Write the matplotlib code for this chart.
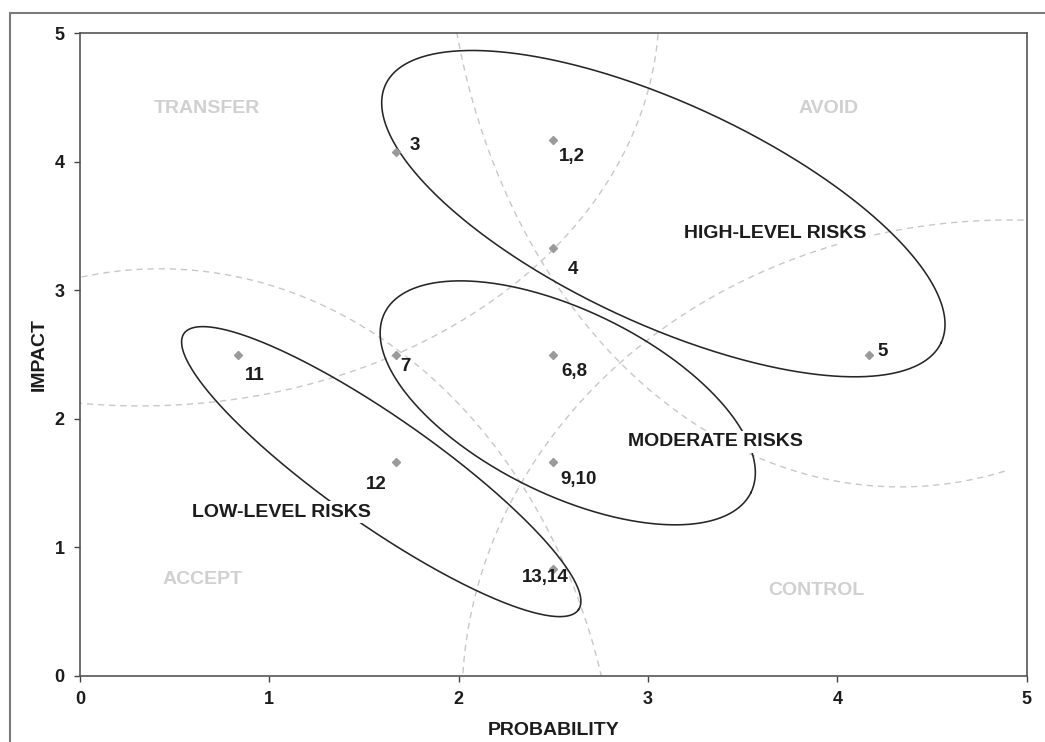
import numpy as np
import matplotlib
matplotlib.use('Agg')
import matplotlib.pyplot as plt
from matplotlib.patches import Rectangle

plt.rcParams['font.family'] = ['Liberation Sans', 'DejaVu Sans']

# ---------------- data ----------------
risk_labels = ['1,2', '3', '4', '5', '6,8', '7', '9,10', '11', '12', '13,14']
probability = [2.5, 1.667, 2.5, 4.167, 2.5, 1.667, 2.5, 0.833, 1.667, 2.5]
impact = [4.167, 4.08, 3.333, 2.5, 2.5, 2.5, 1.667, 2.5, 1.667, 0.833]
label_offsets = [(19, -16), (19, 6), (20, -22), (14, 3), (21, -17),
                 (10, -12), (25, -18), (17, -21), (-19, -23), (-8, -9)]

x_ticks = [0, 1, 2, 3, 4, 5]
y_ticks = [0, 1, 2, 3, 4, 5]

strategy_labels = ['TRANSFER', 'AVOID', 'ACCEPT', 'CONTROL']
strategy_x = [0.672, 3.952, 0.646, 3.891]
strategy_y = [4.418, 4.418, 0.747, 0.669]

group_labels = ['HIGH-LEVEL RISKS', 'MODERATE RISKS', 'LOW-LEVEL RISKS']
group_x = [3.671, 3.354, 1.062]
group_y = [3.445, 1.823, 1.274]
# group ellipses: centre (data), semi-axes (pixels), tilt (deg, downward to the right)
ell_cx = [3.081, 2.576, 1.591]
ell_cy = [3.597, 2.125, 1.590]
ell_a = [306.3, 204.0, 240.8]
ell_b = [110.2, 92.0, 53.9]
ell_tilt = [24.9, 26.1, 35.0]

# boundary arcs (dashed): centre, radii (data units), angle range (deg)
arc_cx = [0.317, 4.331, 0.4225, 4.912]
arc_cy = [5.183, 6.039, -1.198, -0.187]
arc_rx = [2.741, 2.403, 2.424, 2.894]
arc_ry = [3.082, 4.568, 4.366, 3.735]
arc_t0 = [180, 185, 0, 80]
arc_t1 = [360, 283.6, 180, 180]

# ---------------- figure ----------------
W, H = 1045, 742
fig = plt.figure(figsize=(W / 100, H / 100), dpi=100)
ax_l, ax_r, ax_t, ax_b = 80, 1026.7, 33.3, 676
ax = fig.add_axes([ax_l / W, (H - ax_b) / H, (ax_r - ax_l) / W, (ax_b - ax_t) / H])
ax.set_xlim(0, 5)
ax.set_ylim(0, 5)
sx = (ax_r - ax_l) / 5.0
sy = (ax_b - ax_t) / 5.0

# outer frame
fig.add_artist(Rectangle((10 / W, -0.1), 1.2, (H - 13) / H + 0.1,
                         transform=fig.transFigure, fill=False,
                         ec='#7a7a7a', lw=1.5))

# dashed boundary arcs
for cx, cy, rx, ry, t0, t1 in zip(arc_cx, arc_cy, arc_rx, arc_ry, arc_t0, arc_t1):
    t = np.radians(np.linspace(t0, t1, 600))
    ax.plot(cx + rx * np.cos(t), cy + ry * np.sin(t), color='#c8c8c8',
            lw=1.0, ls=(0, (4.5, 3.5)), clip_on=True, zorder=1)

# group ellipses
for cx, cy, a, b, tilt in zip(ell_cx, ell_cy, ell_a, ell_b, ell_tilt):
    t = np.linspace(0, 2 * np.pi, 500)
    u = a * np.cos(t)
    v = b * np.sin(t)
    phi = -np.radians(tilt)
    X = u * np.cos(phi) - v * np.sin(phi)
    Y = u * np.sin(phi) + v * np.cos(phi)
    ax.plot(cx + X / sx, cy + Y / sy, color='#262626', lw=1.15, zorder=2)

# points
ax.plot(probability, impact, ls='none', marker='D', ms=3.6,
        color='#9a9a9a', mec='#9a9a9a', zorder=3)
for lbl, x, y, off in zip(risk_labels, probability, impact, label_offsets):
    ax.annotate(lbl, (x, y), xytext=off, textcoords='offset pixels',
                ha='center', va='center', fontsize=13.5, fontweight='bold',
                color='#1c1c1c', zorder=4)

for lbl, x, y in zip(strategy_labels, strategy_x, strategy_y):
    ax.text(x, y, lbl, ha='center', va='center', fontsize=14,
            fontweight='bold', color='#d0d0d0', zorder=1)

for lbl, x, y in zip(group_labels, group_x, group_y):
    ax.text(x, y, lbl, ha='center', va='center', fontsize=14,
            fontweight='bold', color='#1c1c1c', zorder=4,
            bbox=dict(boxstyle='square,pad=0.12', fc='white', ec='none'))

# axes styling
ax.set_xticks(x_ticks)
ax.set_yticks(y_ticks)
ax.set_xticklabels([str(v) for v in x_ticks])
ax.set_yticklabels([str(v) for v in y_ticks])
ax.tick_params(direction='out', length=4, width=1.0, color='#444444',
               labelsize=13, pad=7, top=False, right=False)
for lab in ax.get_xticklabels() + ax.get_yticklabels():
    lab.set_fontweight('bold')
    lab.set_color('#1c1c1c')
for sp in ax.spines.values():
    sp.set_color('#555555')
    sp.set_linewidth(1.2)

ax.set_xlabel('PROBABILITY', fontsize=14, fontweight='bold', color='#1c1c1c', labelpad=10)
ax.set_ylabel('IMPACT', fontsize=14, fontweight='bold', color='#1c1c1c', labelpad=5)

fig.savefig('out.png', dpi=100)
